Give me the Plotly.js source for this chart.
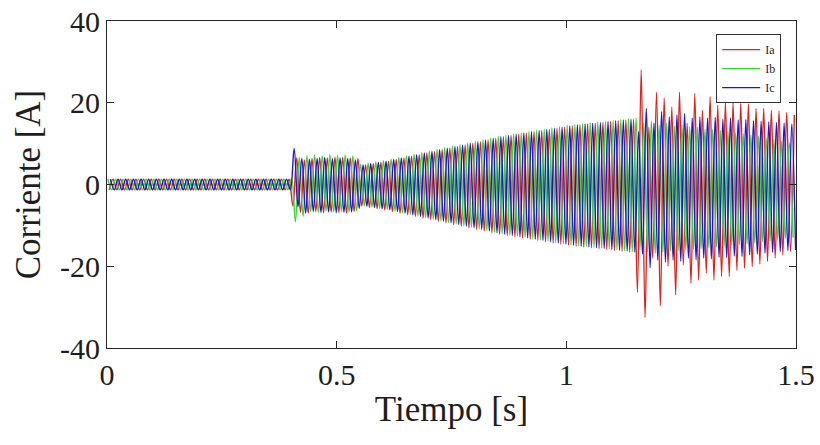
<!DOCTYPE html>
<html>
<head>
<meta charset="utf-8">
<script src="https://cdn.plot.ly/plotly-3.0.1.min.js"></script>
<style>html,body{margin:0;padding:0;background:#fff;}#chart{width:820px;height:445px;}</style>
</head>
<body>
<div id="chart"></div>
<script>
// Peak values per cycle, 90 cycles of 60 Hz over 1.5 s
const freqHz = 60;
const seriesNames = ["Ia", "Ib", "Ic"];
const xTickVals = [0, 0.5, 1, 1.5];
const xTickText = ["0", "0.5", "1", "1.5"];
const yTickVals = [-40, -20, 0, 20, 40];
const yTickText = ["-40", "-20", "0", "20", "40"];

const IaPos = [1.3,1.3,1.3,1.3,1.3,1.3,1.3,1.3,1.3,1.3,1.3,1.3,1.3,1.3,1.3,1.3,1.3,1.3,1.3,1.3,1.3,1.3,1.3,1.3,
  6.5, 6.0,6.4,6.6,6.5,6.7,6.6,6.5,6.4,
  4.8,5.1,5.4,5.7,6.1,6.5,6.9,7.3,7.7,8.1,8.5,8.9,9.3,9.7,10.1,10.5,10.9,11.3,11.7,12.0,12.3,12.6,12.9,13.2,13.5,13.8,14.1,14.4,14.6,14.8,15.0,15.2,15.4,15.6,15.8,16.0,
  28,14,22.6,21.2,19,22.6,15,22.3,18.2,21.5,19.4,20.2,20,19.8,19.7,18.6,18.6,18.2,18,17.6,17];
const IaNeg = [-1.3,-1.3,-1.3,-1.3,-1.3,-1.3,-1.3,-1.3,-1.3,-1.3,-1.3,-1.3,-1.3,-1.3,-1.3,-1.3,-1.3,-1.3,-1.3,-1.3,-1.3,-1.3,-1.3,-1.3,
  -5.2, -6.8,-7.0,-6.6,-6.9,-6.7,-6.8,-7.0,-6.6,
  -5.3,-5.6,-5.9,-6.2,-6.6,-7.0,-7.4,-7.8,-8.2,-8.6,-9.0,-9.4,-9.8,-10.2,-10.6,-11.0,-11.4,-11.8,-12.2,-12.5,-12.8,-13.1,-13.4,-13.7,-14.0,-14.3,-14.6,-14.9,-15.1,-15.3,-15.5,-15.7,-15.9,-16.1,-16.3,-16.5,
  -26.4,-32.5,-18,-29.7,-20,-27,-19.7,-24.2,-23.4,-21.7,-23.4,-22.5,-22.5,-21,-20.5,-20.1,-19.5,-18.8,-18,-17.2,-16.4];

const IbPos = [1.3,1.3,1.3,1.3,1.3,1.3,1.3,1.3,1.3,1.3,1.3,1.3,1.3,1.3,1.3,1.3,1.3,1.3,1.3,1.3,1.3,1.3,1.3,1.3,
  1.5, 6.6,7.0,7.2,7.0,7.3,7.1,7.2,7.0,
  4.9,5.2,5.5,5.8,6.2,6.6,7.0,7.4,7.8,8.2,8.6,9.0,9.4,9.8,10.2,10.6,11.0,11.4,11.8,12.1,12.4,12.7,13.0,13.3,13.6,13.9,14.2,14.5,14.7,14.9,15.1,15.3,15.5,15.7,15.9,16.1,
  16.3,15,15.5,14.5,15,14.3,14.5,14,14,13.6,13.5,13.2,13,12.7,12.4,12.1,11.8,11.4,11,10.6,10.2];
const IbNeg = [-1.3,-1.3,-1.3,-1.3,-1.3,-1.3,-1.3,-1.3,-1.3,-1.3,-1.3,-1.3,-1.3,-1.3,-1.3,-1.3,-1.3,-1.3,-1.3,-1.3,-1.3,-1.3,-1.3,-1.3,
  -9.1, -7.8,-6.6,-6.8,-6.5,-6.7,-6.6,-6.8,-6.4,
  -5.2,-5.5,-5.8,-6.1,-6.5,-6.9,-7.3,-7.7,-8.1,-8.5,-8.9,-9.3,-9.7,-10.1,-10.5,-10.9,-11.3,-11.7,-12.1,-12.4,-12.7,-13.0,-13.3,-13.6,-13.9,-14.2,-14.5,-14.8,-15.0,-15.2,-15.4,-15.6,-15.8,-16.0,-16.2,-16.4,
  -16,-16.5,-16.8,-16.5,-16.3,-16.2,-16,-15.8,-15.7,-15.5,-15.3,-15.1,-14.9,-14.7,-14.5,-14.3,-14,-13.8,-13.5,-13.2,-13];

const IcPos = [1.3,1.3,1.3,1.3,1.3,1.3,1.3,1.3,1.3,1.3,1.3,1.3,1.3,1.3,1.3,1.3,1.3,1.3,1.3,1.3,1.3,1.3,1.3,1.3,
  8.8, 6.4,6.2,6.4,6.6,6.3,6.5,6.4,6.0,
  4.8,5.1,5.4,5.7,6.1,6.5,6.9,7.3,7.7,8.1,8.5,8.9,9.3,9.7,10.1,10.5,10.9,11.3,11.7,12.0,12.3,12.6,12.9,13.2,13.5,13.8,14.1,14.4,14.6,14.8,15.0,15.2,15.4,15.6,15.8,16.0,
  13,18.6,15,17.8,16.5,17,17.4,16.2,16.5,16.2,16.4,16.0,16.2,15.8,15.9,15.6,15.5,15.3,15.2,15.0,14.8];
const IcNeg = [-1.3,-1.3,-1.3,-1.3,-1.3,-1.3,-1.3,-1.3,-1.3,-1.3,-1.3,-1.3,-1.3,-1.3,-1.3,-1.3,-1.3,-1.3,-1.3,-1.3,-1.3,-1.3,-1.3,-1.3,
  -5.5, -7.0,-6.6,-6.8,-6.7,-6.9,-6.8,-6.7,-5.8,
  -5.3,-5.6,-5.9,-6.2,-6.6,-7.0,-7.4,-7.8,-8.2,-8.6,-9.0,-9.4,-9.8,-10.2,-10.6,-11.0,-11.4,-11.8,-12.2,-12.5,-12.8,-13.1,-13.4,-13.7,-14.0,-14.3,-14.6,-14.9,-15.1,-15.3,-15.5,-15.7,-15.9,-16.1,-16.3,-16.5,
  -17,-20.4,-18.5,-19,-18.5,-18.8,-18,-18.4,-18,-18.2,-17.8,-17.9,-17.5,-17.6,-17.2,-17,-16.8,-16.6,-16.4,-16.2,-16];

// phase of positive / negative peaks within each cycle (fraction of period)
const phaseA = {pos: 0.78, neg: 0.28};
const phaseB = {pos: 0.113, neg: 0.613};
const phaseC = {pos: 0.447, neg: 0.947};

function buildSeries(pos, neg, ph) {
  const pts = [];
  const T = 1 / freqHz;
  for (let n = 0; n < pos.length; n++) {
    pts.push([(n + ph.pos) * T, pos[n]]);
    pts.push([(n + ph.neg) * T, neg[n]]);
  }
  pts.sort((a, b) => a[0] - b[0]);
  return {x: pts.map(p => p[0]), y: pts.map(p => p[1])};
}

const colors = ["#e3211c", "#33d633", "#1a1acc"];
const data = [[IaPos, IaNeg, phaseA], [IbPos, IbNeg, phaseB], [IcPos, IcNeg, phaseC]].map((d, i) => {
  const s = buildSeries(d[0], d[1], d[2]);
  return {
    x: s.x, y: s.y, type: "scatter", mode: "lines", name: seriesNames[i],
    line: {color: colors[i], width: 1.4, shape: "spline", smoothing: 1}
  };
});

const SERIF = "Liberation Serif";
const TXT = "#1e1e1e";
const axisFont = {family: SERIF, size: 30, color: TXT};
const layout = {
  width: 820, height: 445,
  font: {family: SERIF, color: TXT},
  margin: {l: 107, r: 24, t: 21, b: 97},
  paper_bgcolor: "#ffffff", plot_bgcolor: "#ffffff",
  showlegend: true,
  legend: {
    x: 0.9785, y: 0.96, xanchor: "right", yanchor: "top",
    bgcolor: "#ffffff", bordercolor: "#333333", borderwidth: 1,
    font: {family: SERIF, size: 12, color: TXT},
    tracegroupgap: 0, itemwidth: 38
  },
  xaxis: {
    range: [0, 1.5], tickvals: xTickVals, ticktext: xTickText,
    ticks: "inside", ticklen: 7, tickcolor: "#262626", tickwidth: 1,
    showline: true, linecolor: "#262626", linewidth: 1, mirror: "allticks",
    showgrid: false, zeroline: false, tickfont: axisFont,
    title: {text: "Tiempo [s]", font: {family: SERIF, size: 35, color: TXT}, standoff: 6}
  },
  yaxis: {
    range: [-40, 40], tickvals: yTickVals, ticktext: yTickText,
    ticks: "inside", ticklen: 7, tickcolor: "#262626", tickwidth: 1,
    showline: true, linecolor: "#262626", linewidth: 1, mirror: "allticks",
    showgrid: false, zeroline: false, tickfont: axisFont,
    title: {text: "Corriente [A]", font: {family: SERIF, size: 35, color: TXT}, standoff: 8}
  }
};

Plotly.newPlot("chart", data, layout, {staticPlot: true, displayModeBar: false});
</script>
</body>
</html>
